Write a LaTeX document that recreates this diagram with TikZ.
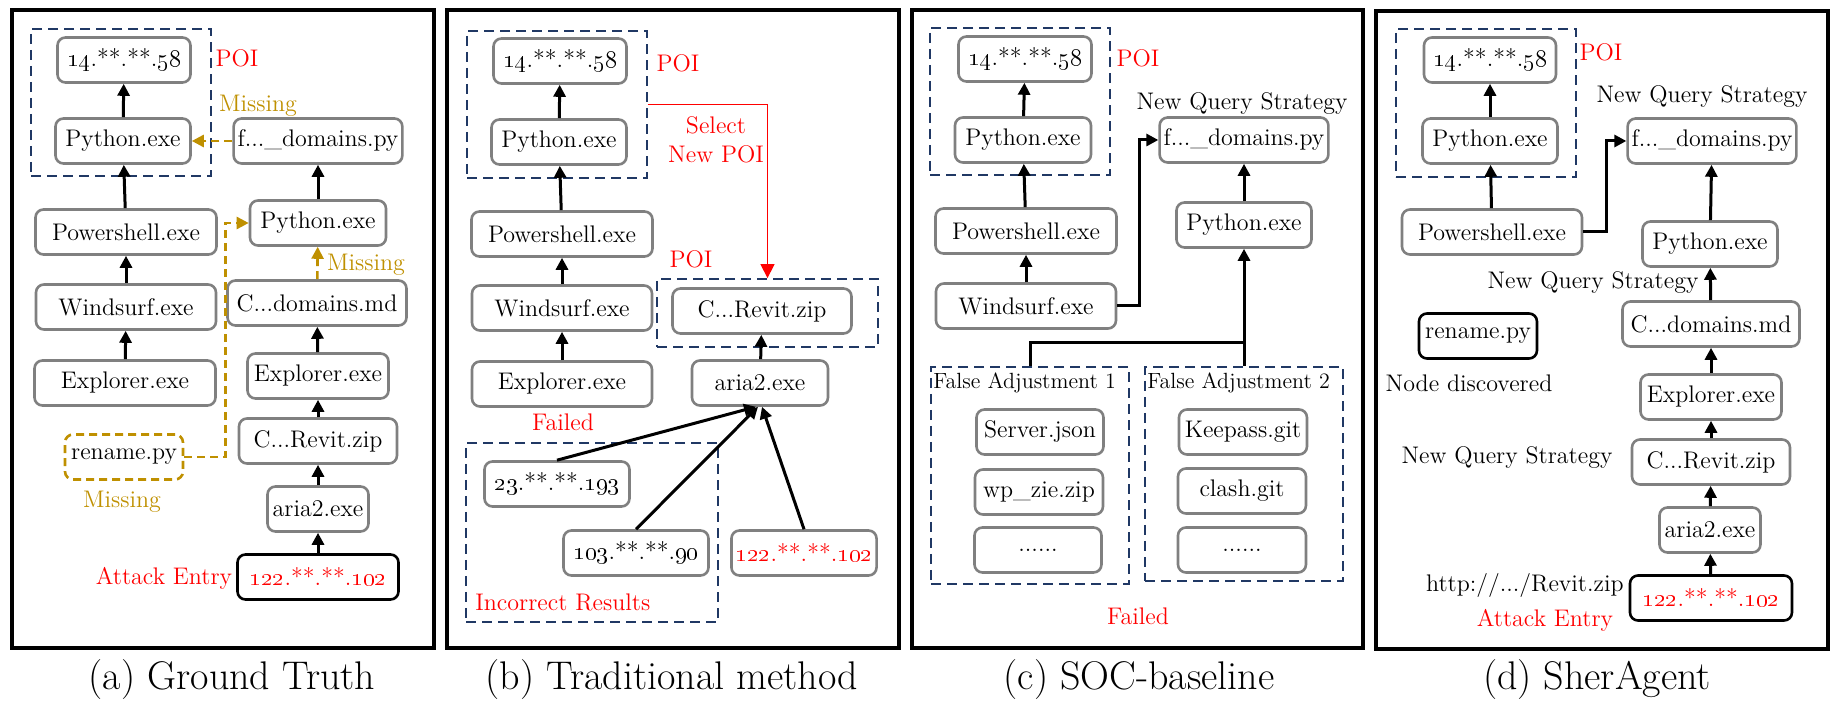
\documentclass[tikz,border=0pt]{standalone}
\usepackage{amsmath}
\usepackage{amssymb}
\usepackage{tikz}
\usetikzlibrary{arrows.meta}

\definecolor{boxgray}{RGB}{128,128,128}
\definecolor{navy}{RGB}{32,56,100}
\definecolor{gold}{RGB}{191,144,0}

\tikzset{
	proc/.style={draw=boxgray, line width=1.3pt, rounded corners=4pt, fill=white, minimum height=22.5pt, inner sep=2pt, font=\fontsize{12}{14}\selectfont},
	entry/.style={proc, draw=black, text=red},
	found/.style={proc, draw=black},
	lost/.style={proc, draw=gold, dashed, dash pattern=on 4pt off 2.5pt},
	poibox/.style={draw=navy, line width=0.9pt, dash pattern=on 5pt off 3pt, inner sep=0pt},
	flow/.style={-{Triangle[length=6pt,width=6pt]}, line width=1.5pt},
	miss/.style={flow, draw=gold, line width=1.3pt, dash pattern=on 4pt off 2.5pt},
	newpoi/.style={-{Triangle[length=7pt,width=7pt]}, draw=red, line width=0.7pt},
	lbl/.style={font=\fontsize{12}{14.5}\selectfont, inner sep=0pt},
	redlbl/.style={lbl, text=red},
	goldlbl/.style={lbl, text=gold},
	frame/.style={line width=1.6pt},
	caption/.style={font=\fontsize{20}{24}\selectfont, inner sep=0pt},
}

\newcommand{\ipx}[2]{\oldstylenums{#1}.**.**.\oldstylenums{#2}}

\begin{document}
\begin{tikzpicture}[yscale=-1, x=0.5pt, y=0.5pt]

		\useasboundingbox (0,0) rectangle (1842,710);

		% (a) Ground Truth
		\draw [frame] (12,10) rectangle (434,648);
		\node [poibox, minimum width=90pt, minimum height=73.5pt] (apoibox) at (121,102.5) {};
		\node [redlbl]							(apoi)	at (237,58)		{POI};
		\node [proc, minimum width=66.5pt]		(a14)	at (124,60)		{\ipx{14}{58}};
		\node [proc, minimum width=67.5pt]		(apy)	at (123,141)	{Python.exe};
		\node [proc, minimum width=83pt]		(afd)	at (318,141)	{f...\_domains.py};
		\node [proc, minimum width=90.5pt]		(aps)	at (126,232)	{Powershell.exe};
		\node [proc, minimum width=68pt]		(apyb)	at (318,223)	{Python.exe};
		\node [proc, minimum width=89.5pt]		(acdm)	at (317,303)	{C...domains.md};
		\node [proc, minimum width=90pt]		(aws)	at (126,307)	{Windsurf.exe};
		\node [proc, minimum width=90.5pt]		(aex)	at (125,383)	{Explorer.exe};
		\node [proc, minimum width=70.5pt]		(aexb)	at (318,376)	{Explorer.exe};
		\node [proc, minimum width=79pt]		(acrz)	at (318,441)	{C...Revit.zip};
		\node [lost, minimum width=59pt]		(aren)	at (124,457)	{rename.py};
		\node [proc, minimum width=50.5pt]		(aar)	at (318,509)	{aria2.exe};
		\node [entry, minimum width=80.5pt]		(aent)	at (318,577)	{\ipx{122}{102}};
		\node [goldlbl]							(amis1)	at (258,106)	{Missing};
		\node [goldlbl]							(amis2)	at (366,265)	{Missing};
		\node [goldlbl]							(amis3)	at (122,502)	{Missing};
		\node [redlbl]							(aatk)	at (164,578)	{Attack Entry};
		\draw [flow] (apy) -- (a14);
		\draw [flow] (aps) -- (apy);
		\draw [flow] (aws) -- (aps);
		\draw [flow] (aex) -- (aws);
		\draw [flow] (apyb) -- (afd);
		\draw [flow] (aexb) -- (acdm);
		\draw [flow] (acrz) -- (aexb);
		\draw [flow] (aar) -- (acrz);
		\draw [flow] (aent) -- (aar);
		\draw [miss] (afd) -- (apy);
		\draw [miss] (acdm) -- (apyb);
		\draw [miss] (aren.east) -- ++(41,0) |- (apyb.west);
		\node [caption] (acap) at (232,680) {(a) Ground Truth};

		% (b) Traditional method
		\draw [frame] (447,10) rectangle (899,648);
		\node [poibox, minimum width=90pt, minimum height=73.5pt]	(bpoibox)	at (557,104.5)	{};
		\node [poibox, minimum width=110.5pt, minimum height=34pt]	(bpoibox2)	at (767.5,313)	{};
		\node [poibox, minimum width=126pt, minimum height=89.5pt]	(bbad)		at (592,532.5)	{};
		\node [redlbl]							(bpoi)	at (678,63)		{POI};
		\node [redlbl]							(bpoi2)	at (691,259)	{POI};
		\node [redlbl, align=center]			(bsel)	at (716,140)	{Select\\New POI};
		\node [proc, minimum width=66.5pt]		(b14)	at (560,61)		{\ipx{14}{58}};
		\node [proc, minimum width=67.5pt]		(bpy)	at (559,142)	{Python.exe};
		\node [proc, minimum width=90.5pt]		(bps)	at (562,234)	{Powershell.exe};
		\node [proc, minimum width=90pt]		(bws)	at (562,308)	{Windsurf.exe};
		\node [proc, minimum width=90pt]		(bex)	at (562,384)	{Explorer.exe};
		\node [proc, minimum width=89.5pt]		(bcrz)	at (762,311)	{C...Revit.zip};
		\node [proc, minimum width=68pt]		(bar)	at (760,383)	{aria2.exe};
		\node [proc, minimum width=72.5pt]		(b23)	at (557,484)	{\ipx{23}{193}};
		\node [proc, minimum width=72.5pt]		(b103)	at (636,553)	{\ipx{103}{90}};
		\node [proc, minimum width=72.5pt, text=red]	(b122)	at (804,553)	{\ipx{122}{102}};
		\node [redlbl]							(bfail)	at (563,422)	{Failed};
		\node [redlbl, anchor=west]				(bbadl)	at (475,602)	{Incorrect Results};
		\draw [flow] (bpy) -- (b14);
		\draw [flow] (bps) -- (bpy);
		\draw [flow] (bws) -- (bps);
		\draw [flow] (bex) -- (bws);
		\draw [flow] (bar) -- (bcrz);
		\draw [flow] (b23.north) -- ([xshift=-2pt]bar.south);
		\draw [flow] (b103.north) -- ([xshift=-1pt]bar.south);
		\draw [flow] (b122.north) -- ([xshift=1pt]bar.south);
		\draw [newpoi] (bpoibox.east) -| (bpoibox2.north);
		\node [caption] (bcap) at (672,680) {(b) Traditional method};

		% (c) SOC-baseline
		\draw [frame] (912,10) rectangle (1363,648);
		\node [poibox, minimum width=90pt, minimum height=73.5pt]	(cpoibox)	at (1020,101.5)	{};
		\node [poibox, minimum width=99pt, minimum height=108.5pt]	(cfa1)		at (1030,475.5)	{};
		\node [poibox, minimum width=99pt, minimum height=107pt]	(cfa2)		at (1244,474)	{};
		\node [redlbl]							(cpoi)	at (1138,58)	{POI};
		\node [proc, minimum width=66.5pt]		(c14)	at (1025,59)	{\ipx{14}{58}};
		\node [proc, minimum width=68pt]		(cpy)	at (1023,140)	{Python.exe};
		\node [proc, minimum width=90.5pt]		(cps)	at (1026,231)	{Powershell.exe};
		\node [proc, minimum width=90pt]		(cws)	at (1026,306)	{Windsurf.exe};
		\node [lbl]								(cnq)	at (1242,104)	{New Query Strategy};
		\node [proc, minimum width=82.5pt]		(cfd)	at (1244,140)	{f...\_domains.py};
		\node [proc, minimum width=67.5pt]		(cpyb)	at (1244,225)	{Python.exe};
		\node [lbl, anchor=west, font=\fontsize{11}{13}\selectfont]	(cfa1l)	at (933,383)	{False Adjustment 1};
		\node [lbl, anchor=west, font=\fontsize{11}{13}\selectfont]	(cfa2l)	at (1147,383)	{False Adjustment 2};
		\node [proc, minimum width=63.5pt]		(csrv)	at (1040,432)	{Server.json};
		\node [proc, minimum width=64pt]		(cwp)	at (1039,492)	{wp\_zie.zip};
		\node [proc, minimum width=63.5pt]		(cdot1)	at (1038,550)	{......};
		\node [proc, minimum width=64pt]		(ckp)	at (1243,432)	{Keepass.git};
		\node [proc, minimum width=64pt]		(ccl)	at (1242,491)	{clash.git};
		\node [proc, minimum width=64pt]		(cdot2)	at (1242,550)	{......};
		\node [redlbl]							(cfail)	at (1138,616)	{Failed};
		\draw [flow] (cpy) -- (c14);
		\draw [flow] (cps) -- (cpy);
		\draw [flow] (cws) -- (cps);
		\draw [flow] (cpyb) -- (cfd);
		\draw [flow] (cws.east) -- ++(22,0) |- (cfd.west);
		\draw [line width=1.5pt] (cfa1.north) -- ++(0,-24) -| (cfa2.north);
		\draw [flow] (cfa2.north) -- (cpyb.south);
		\node [caption] (ccap) at (1139,680) {(c) SOC-baseline};

		% (d) SherAgent
		\draw [frame] (1376,11) rectangle (1828,649);
		\node [poibox, minimum width=90pt, minimum height=74pt] (dpoibox) at (1486,103) {};
		\node [redlbl]							(dpoi)	at (1601,52)	{POI};
		\node [proc, minimum width=66pt]		(d14)	at (1490,60)	{\ipx{14}{58}};
		\node [proc, minimum width=67.5pt]		(dpy)	at (1490,141)	{Python.exe};
		\node [proc, minimum width=90pt]		(dps)	at (1492,232)	{Powershell.exe};
		\node [lbl]								(dnq1)	at (1702,97)	{New Query Strategy};
		\node [proc, minimum width=82.5pt]		(dfd)	at (1712,141)	{f...\_domains.py};
		\node [proc, minimum width=67.5pt]		(dpyb)	at (1710,244)	{Python.exe};
		\node [lbl]								(dnq2)	at (1593,283)	{New Query Strategy};
		\node [proc, minimum width=88.5pt]		(dcdm)	at (1711,324)	{C...domains.md};
		\node [found, minimum width=59pt]		(dren)	at (1478,336)	{rename.py};
		\node [lbl]								(dnd)	at (1469,383)	{Node discovered};
		\node [proc, minimum width=70.5pt]		(dex)	at (1711,397)	{Explorer.exe};
		\node [proc, minimum width=79pt]		(dcrz)	at (1711,462)	{C...Revit.zip};
		\node [lbl]								(dnq3)	at (1507,458)	{New Query Strategy};
		\node [proc, minimum width=50.5pt]		(dar)	at (1710,530)	{aria2.exe};
		\node [entry, minimum width=81pt]		(dent)	at (1711,598)	{\ipx{122}{102}};
		\node [lbl, anchor=east]				(durl)	at (1624,586)	{http://.../Revit.zip};
		\node [redlbl]							(datk)	at (1545,620)	{Attack Entry};
		\draw [flow] (dpy) -- (d14);
		\draw [flow] (dps) -- (dpy);
		\draw [flow] (dps.east) -- ++(23,0) |- (dfd.west);
		\draw [flow] (dpyb) -- (dfd);
		\draw [flow] (dcdm) -- (dpyb);
		\draw [flow] (dex) -- (dcdm);
		\draw [flow] (dcrz) -- (dex);
		\draw [flow] (dar) -- (dcrz);
		\draw [flow] (dent) -- (dar);
		\node [caption] (dcap) at (1597,680) {(d) SherAgent};

	\end{tikzpicture}
\end{document}
